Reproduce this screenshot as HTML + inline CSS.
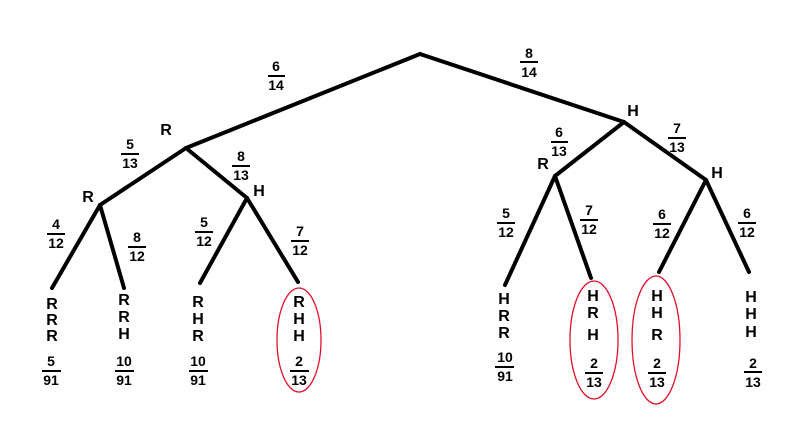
<!DOCTYPE html>
<html><head><meta charset="utf-8"><style>
html,body{margin:0;padding:0;background:#fff;}
svg{display:block;}
text{font-family:"Liberation Sans",sans-serif;font-weight:bold;fill:#000;text-anchor:middle;}
.l{font-size:16px;}
.f{font-size:14px;}
</style></head><body>
<svg width="800" height="426" viewBox="0 0 800 426" xmlns="http://www.w3.org/2000/svg">
<g stroke="#000" stroke-width="4" stroke-linecap="round" fill="none">
<line x1="420" y1="54" x2="186" y2="148"/>
<line x1="420" y1="54" x2="624" y2="122"/>
<line x1="186" y1="148" x2="100" y2="205"/>
<line x1="186" y1="148" x2="247" y2="198"/>
<line x1="624" y1="122" x2="555" y2="176"/>
<line x1="624" y1="122" x2="706" y2="180"/>
<line x1="100" y1="205" x2="52" y2="288"/>
<line x1="100" y1="205" x2="124" y2="288"/>
<line x1="247" y1="198" x2="200" y2="283"/>
<line x1="247" y1="198" x2="298" y2="282"/>
<line x1="555" y1="176" x2="505" y2="285"/>
<line x1="555" y1="176" x2="591" y2="278"/>
<line x1="706" y1="180" x2="659" y2="272"/>
<line x1="706" y1="180" x2="749" y2="272"/>
</g>
<g stroke="#e0102a" stroke-width="1.3" fill="none">
<ellipse cx="299" cy="340" rx="22" ry="52"/>
<ellipse cx="594" cy="340" rx="24" ry="59"/>
<ellipse cx="656" cy="340" rx="24" ry="64"/>
</g>
<g class="l">
<text x="166" y="135">R</text>
<text x="88" y="202">R</text>
<text x="259" y="196">H</text>
<text x="633" y="116">H</text>
<text x="543" y="169">R</text>
<text x="717" y="178">H</text>
</g>
<g class="f">
<text x="276" y="71">6</text><text x="276" y="90">14</text>
<text x="529" y="58">8</text><text x="529" y="77">14</text>
<text x="130" y="149">5</text><text x="130" y="168">13</text>
<text x="241" y="161">8</text><text x="241" y="180">13</text>
<text x="559" y="137">6</text><text x="559" y="156">13</text>
<text x="677" y="133">7</text><text x="677" y="152">13</text>
<text x="56" y="229">4</text><text x="56" y="248">12</text>
<text x="137" y="242">8</text><text x="137" y="261">12</text>
<text x="204" y="227">5</text><text x="204" y="246">12</text>
<text x="300" y="236">7</text><text x="300" y="255">12</text>
<text x="506" y="218">5</text><text x="506" y="237">12</text>
<text x="589" y="215">7</text><text x="589" y="234">12</text>
<text x="662" y="219">6</text><text x="662" y="238">12</text>
<text x="747" y="218">6</text><text x="747" y="237">12</text>
</g>
<g stroke="#000" stroke-width="2">
<line x1="268" y1="76" x2="285" y2="76"/>
<line x1="520" y1="62" x2="538" y2="62"/>
<line x1="121" y1="154" x2="139" y2="154"/>
<line x1="232" y1="166" x2="250" y2="166"/>
<line x1="551" y1="142" x2="568" y2="142"/>
<line x1="668" y1="138" x2="686" y2="138"/>
<line x1="47" y1="234" x2="65" y2="234"/>
<line x1="128" y1="247" x2="146" y2="247"/>
<line x1="195" y1="232" x2="213" y2="232"/>
<line x1="291" y1="241" x2="309" y2="241"/>
<line x1="497" y1="223" x2="515" y2="223"/>
<line x1="580" y1="220" x2="598" y2="220"/>
<line x1="653" y1="224" x2="671" y2="224"/>
<line x1="738" y1="223" x2="756" y2="223"/>
</g>
<g class="l">
<text x="52" y="309">R</text><text x="52" y="325">R</text><text x="52" y="341">R</text>
<text x="124" y="305">R</text><text x="124" y="322">R</text><text x="124" y="339">H</text>
<text x="198" y="307">R</text><text x="198" y="324">H</text><text x="198" y="341">R</text>
<text x="299" y="307">R</text><text x="299" y="324">H</text><text x="299" y="341">H</text>
<text x="504" y="304">H</text><text x="504" y="321">R</text><text x="504" y="338">R</text>
<text x="593" y="301">H</text><text x="593" y="318">R</text><text x="593" y="340">H</text>
<text x="657" y="301">H</text><text x="657" y="318">H</text><text x="657" y="340">R</text>
<text x="751" y="302">H</text><text x="751" y="319">H</text><text x="751" y="337">H</text>
</g>
<g class="f">
<text x="51" y="366">5</text><text x="51" y="385">91</text>
<text x="124" y="366">10</text><text x="124" y="385">91</text>
<text x="198" y="366">10</text><text x="198" y="385">91</text>
<text x="299" y="366">2</text><text x="299" y="385">13</text>
<text x="505" y="362">10</text><text x="505" y="381">91</text>
<text x="594" y="368">2</text><text x="594" y="387">13</text>
<text x="657" y="368">2</text><text x="657" y="387">13</text>
<text x="753" y="368">2</text><text x="753" y="387">13</text>
</g>
<g stroke="#000" stroke-width="2">
<line x1="42" y1="371" x2="61" y2="371"/>
<line x1="115" y1="371" x2="134" y2="371"/>
<line x1="189" y1="371" x2="208" y2="371"/>
<line x1="290" y1="371" x2="309" y2="371"/>
<line x1="495" y1="367" x2="514" y2="367"/>
<line x1="585" y1="373" x2="603" y2="373"/>
<line x1="648" y1="373" x2="666" y2="373"/>
<line x1="744" y1="372" x2="762" y2="372"/>
</g>
</svg>
</body></html>
